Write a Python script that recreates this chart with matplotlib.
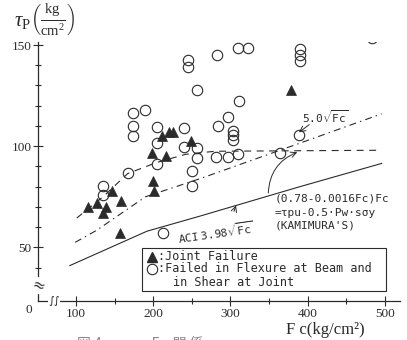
import numpy as np
import matplotlib
matplotlib.use("Agg")
import matplotlib.pyplot as plt
from matplotlib.patches import Rectangle

plt.rcParams['mathtext.fontset'] = 'custom'
plt.rcParams['mathtext.rm'] = 'Liberation Serif'
plt.rcParams['mathtext.it'] = 'Liberation Serif:italic'
plt.rcParams['mathtext.tt'] = 'DejaVu Sans Mono'
plt.rcParams['lines.scale_dashes'] = False

# ------------------------------------------------------------
# data (Fc in kg/cm2, tau_p in kg/cm2)
# ------------------------------------------------------------
joint_fc  = [378, 211, 220, 226, 249, 198, 217, 200, 201, 147, 158, 127, 139, 116, 135, 157]
joint_tau = [128, 105, 107, 107, 102.5, 96.5, 95, 83, 78, 78, 73, 72, 70, 70, 67, 57]

flex_fc  = [314, 310, 323, 283, 245, 245, 390, 390, 390, 483, 257, 311, 297, 284,
            303, 303, 303, 240, 174, 189, 174, 174, 205, 205, 240, 257, 257, 250,
            250, 205, 167, 135, 135, 213, 281, 297, 310, 364, 389]
flex_tau = [158, 148.5, 148.5, 145, 142.5, 139, 148, 145, 142, 153.5, 128, 122.5, 114.5, 110,
            107.5, 105.5, 103, 109, 116.5, 118, 110, 105, 109.5, 101.5, 99.5, 99, 94, 87.5,
            80.5, 91, 87, 80.5, 76, 57, 94.5, 94.5, 96, 96.5, 105.5]

# design curves, points
aci_fc  = [92, 192, 261, 390, 496]
aci_tau = [41, 58, 65.5, 80, 91.5]
c50_fc  = [99, 127, 190, 261, 390, 496]
c50_tau = [52.5, 58.5, 75, 84, 101.5, 116]
kam_fc  = [101, 135, 167, 205, 242, 280, 494]
kam_tau = [64.5, 75, 86.5, 92, 96, 97.5, 98]

x_major = [100, 200, 300, 400, 500]
y_major = [50, 100, 150]

fig = plt.figure(figsize=(4.07, 3.40), dpi=100)
ax = fig.add_axes([0.0934, 0.1147, 0.8894, 0.7618])
ax.set_xlim(50.8, 519.7)
ax.set_ylim(23.5, 151.5)

ink = '#2b2b2b'
ax.plot(aci_fc, aci_tau, color=ink, lw=0.8)
ax.plot(c50_fc, c50_tau, color=ink, lw=0.8, dashes=(5, 3, 1, 3))
ax.plot(kam_fc, kam_tau, color=ink, lw=0.8, dashes=(5, 4))

ax.plot(flex_fc, flex_tau, 'o', ms=7.5, mfc='none', mec=ink, mew=0.8, ls='none')
ax.plot(joint_fc, joint_tau, '^', ms=7.5, mfc=ink, mec=ink, mew=0.5, ls='none')

# axes styling
for s in ['top', 'right']:
    ax.spines[s].set_visible(False)
for s in ['left', 'bottom']:
    ax.spines[s].set_color(ink)
    ax.spines[s].set_linewidth(0.9)
ax.set_xticks(x_major)
ax.set_xticks([150, 250, 350, 450], minor=True)
ax.set_yticks(y_major)
ax.set_yticks([v for v in range(30, 151, 10) if v % 50], minor=True)
ax.tick_params(which='major', direction='inout', length=7, width=0.8, colors=ink,
               labelsize=9.5)
ax.tick_params(which='minor', direction='inout', length=4, width=0.8, colors=ink)
for lab in ax.get_xticklabels() + ax.get_yticklabels():
    lab.set_fontfamily('Liberation Serif')
ax.tick_params(axis='x', pad=1.5)
ax.tick_params(axis='y', pad=1)

# origin label and axis break marks
fig.text(29 / 407, 1 - 310 / 340, '0', family='Liberation Serif', fontsize=9.5,
         ha='center', va='center', color=ink)
ax.text(0.0, 0.06, '≈', transform=ax.transAxes, fontsize=11, rotation=-20,
        ha='center', va='center', color=ink,
        bbox=dict(fc='white', ec='none', pad=0.3))
ax.text(0.045, 0.0, '∫∫', transform=ax.transAxes, fontsize=8,
        ha='center', va='center', color=ink,
        bbox=dict(fc='white', ec='none', pad=0.2))

# axis titles
fig.text(0.035, 0.945, r'$\tau_{\rm P}\left(\frac{\rm kg}{{\rm cm}^2}\right)$',
         fontsize=15, ha='left', va='center', color=ink)
fig.text(286 / 407, 1 - 330 / 340, 'F c(kg/cm²)', family='Liberation Serif',
         fontsize=12, ha='left', va='center', color=ink)

# curve labels
mono = 'DejaVu Sans Mono'
ax.text(393, 114.7, r'$\mathtt{5.0}\sqrt{\mathtt{Fc}}$', fontsize=8,
        ha='left', va='center', color=ink)
ax.annotate('', xy=(386, 106), xytext=(405, 111.5),
            arrowprops=dict(arrowstyle='->', color=ink, lw=0.7))
ax.text(231.5, 55, r'$\mathtt{ACI\ 3.98}\sqrt{\mathtt{Fc}}$', fontsize=8,
        ha='left', va='center', rotation=8, rotation_mode='anchor', color=ink)
ax.annotate('', xy=(308.5, 72), xytext=(303.5, 66.5),
            arrowprops=dict(arrowstyle='->', color=ink, lw=0.7))
ax.text(357.8, 74.0, '(0.78-0.0016Fc)Fc', family=mono, fontsize=8,
        ha='left', va='center', color=ink)
ax.text(357.8, 67.2, '=τpu-0.5·Pw·sσy', family=mono, fontsize=8,
        ha='left', va='center', color=ink)
ax.text(357.8, 60.8, "(KAMIMURA'S)", family=mono, fontsize=8,
        ha='left', va='center', color=ink)
ax.annotate('', xy=(390, 97.5), xytext=(349, 75.5),
            arrowprops=dict(arrowstyle='->', color=ink, lw=0.7,
                            connectionstyle='arc3,rad=-0.35'))

# legend box
ax.add_patch(Rectangle((0.287, 0.0386), 0.674, 0.166, transform=ax.transAxes,
                       fill=True, fc='white', ec=ink, lw=0.8, zorder=3))
ax.plot([0.315], [0.170], '^', ms=7.5, mfc=ink, mec=ink, transform=ax.transAxes,
        zorder=4, clip_on=False)
ax.plot([0.315], [0.124], 'o', ms=7.5, mfc='none', mec=ink, mew=0.8,
        transform=ax.transAxes, zorder=4, clip_on=False)
ax.text(0.331, 0.170, ':Joint Failure', family=mono, fontsize=8.5,
        transform=ax.transAxes, ha='left', va='center', color=ink, zorder=4)
ax.text(0.331, 0.124, ':Failed in Flexure at Beam and', family=mono, fontsize=8.5,
        transform=ax.transAxes, ha='left', va='center', color=ink, zorder=4)
ax.text(0.373, 0.073, 'in Shear at Joint', family=mono, fontsize=8.5,
        transform=ax.transAxes, ha='left', va='center', color=ink, zorder=4)

# figure caption, cut off at the bottom edge of the scan
fig.text(77 / 407, 4 / 340, '図 4    τp —  F c 関 係', family=['Noto Sans CJK JP', 'DejaVu Sans'],
         fontsize=10, ha='left', va='top', color='#888888')

fig.savefig('out.png', dpi=100)
